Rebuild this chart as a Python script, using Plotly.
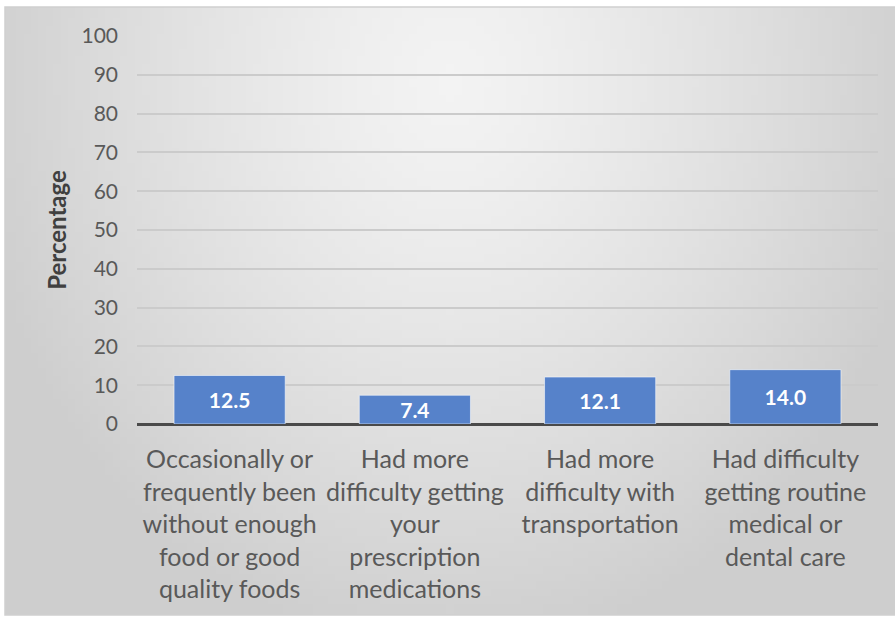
import base64
import struct
import zlib

import plotly.graph_objects as go

# Dados
categories = [
    "Occasionally or<br>frequently been<br>without enough<br>food or good<br>quality foods",
    "Had more<br>difficulty getting<br>your<br>prescription<br>medications",
    "Had more<br>difficulty with<br>transportation",
    "Had difficulty<br>getting routine<br>medical or<br>dental care",
]
values = [12.5, 7.4, 12.1, 14.0]
y_ticks = [0, 10, 20, 30, 40, 50, 60, 70, 80, 90, 100]

W, H = 895, 617
ML, MR, MT, MB = 137, 17, 36, 193


# fundo em degradê radial (png gerado na hora)
def gradient_png(w, h):
    rows = b""
    for j in range(h):
        row = bytearray([0])
        y = j / (h - 1)
        for i in range(w):
            x = i / (w - 1)
            r = (((x - 0.5) / 0.55) ** 2 + ((y - 0.12) / 0.95) ** 2) ** 0.5
            r = min(1.0, r)
            v = int(round(243 - (243 - 206) * r ** 1.3))
            row.append(v)
        rows += bytes(row)

    def chunk(tag, data):
        c = tag + data
        return struct.pack(">I", len(data)) + c + struct.pack(">I", zlib.crc32(c) & 0xFFFFFFFF)

    png = b"\x89PNG\r\n\x1a\n"
    png += chunk(b"IHDR", struct.pack(">IIBBBBB", w, h, 8, 0, 0, 0, 0))
    png += chunk(b"IDAT", zlib.compress(rows, 9))
    png += chunk(b"IEND", b"")
    return "data:image/png;base64," + base64.b64encode(png).decode()


pw = W - ML - MR
ph = H - MT - MB


def px_to_paper_x(px):
    return (px - ML) / pw


def px_to_paper_y(py):
    return 1 - (py - MT) / ph


box_l, box_r, box_t, box_b = 5, 895, 7, 615

fig = go.Figure()

fig.add_trace(go.Bar(
    x=categories,
    y=values,
    marker=dict(color="#5682CA", line=dict(color="rgba(255,255,255,0.55)", width=1)),
    width=0.6,
    text=[f"{v:.1f}" for v in values],
    textposition="inside",
    insidetextanchor="middle",
    textfont=dict(family="Lato", size=21, color="white", weight="bold"),
    hoverinfo="skip",
))

fig.update_layout(
    width=W, height=H,
    margin=dict(l=ML, r=MR, t=MT, b=MB),
    paper_bgcolor="white",
    plot_bgcolor="rgba(0,0,0,0)",
    showlegend=False,
    uniformtext=dict(minsize=21, mode="show"),
    font=dict(family="Lato", color="#595959"),
    images=[dict(
        source=gradient_png(120, 80),
        xref="paper", yref="paper",
        x=px_to_paper_x(box_l), y=px_to_paper_y(box_t),
        sizex=px_to_paper_x(box_r) - px_to_paper_x(box_l),
        sizey=px_to_paper_y(box_t) - px_to_paper_y(box_b),
        sizing="stretch", layer="below",
    )],
    shapes=[dict(
        type="rect", xref="paper", yref="paper",
        x0=px_to_paper_x(box_l), x1=px_to_paper_x(box_r + 5),
        y0=px_to_paper_y(box_b), y1=px_to_paper_y(box_t),
        line=dict(color="#d0d0d0", width=1.5), layer="below",
    )],
)

fig.update_yaxes(
    range=[0, 100],
    tickvals=y_ticks,
    tickfont=dict(size=21, color="#595959"),
    ticklabelstandoff=18,
    showgrid=True, gridcolor="#cbcbcb", gridwidth=1.5,
    zeroline=True, zerolinecolor="#4a4a4a", zerolinewidth=3,
    showline=False,
    title=dict(text="Percentage", font=dict(size=24, color="#404040", weight="bold"), standoff=8),
    fixedrange=True,
)
fig.update_xaxes(
    tickfont=dict(size=25, color="#595959"),
    ticklabelstandoff=18,
    showline=False, showgrid=False,
    tickangle=0,
    fixedrange=True,
)

fig.write_html("out.html", config={"displayModeBar": False},
               post_script="document.body.style.margin='0';")
